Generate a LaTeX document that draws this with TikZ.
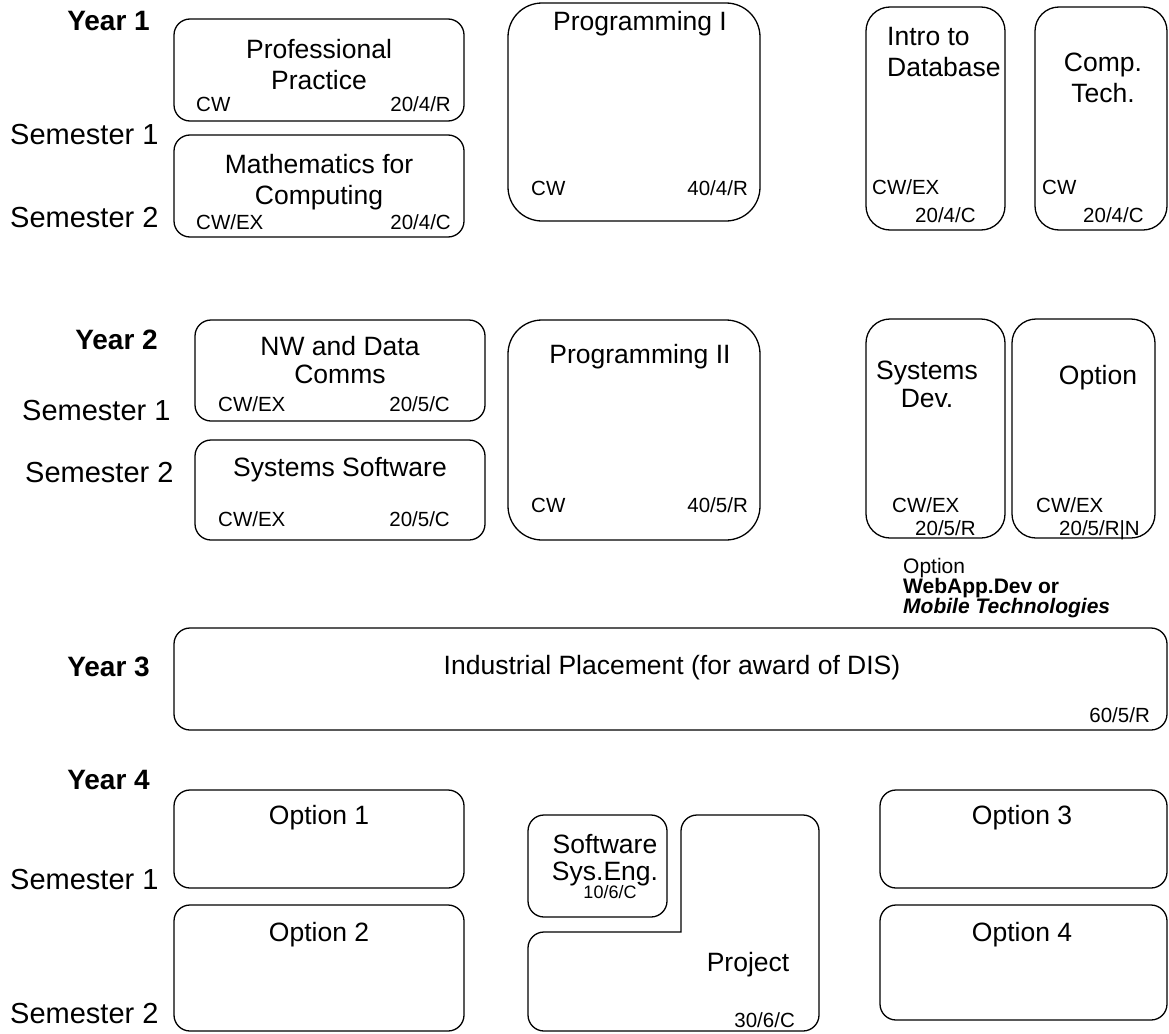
\documentclass[tikz,border=0pt]{standalone}
\usepackage{fontspec}
\setmainfont{Liberation Sans}
\usetikzlibrary{fit}
\begin{document}
\begin{tikzpicture}[x=1pt,y=-1pt,
  mbox/.style={draw, line width=1.3pt, rounded corners=16pt, inner sep=0pt},
  bigbox/.style={mbox, rounded corners=34pt},
  midbox/.style={mbox, rounded corners=24pt},
  ttl/.style={font=\fontsize{26.5}{31}\selectfont, inner sep=0pt, align=center},
  sm/.style={font=\fontsize{20.5}{22}\selectfont, inner sep=0pt},
  lab/.style={font=\fontsize{29}{30}\selectfont, inner sep=0pt, anchor=west},
  yr/.style={font=\bfseries\fontsize{28}{30}\selectfont, inner sep=0pt, anchor=east},
  note/.style={font=\fontsize{21}{22}\selectfont, inner sep=0pt, anchor=west},
]
\useasboundingbox (0,0) rectangle (1169,1033);

% ---------------- Year 1
\node[yr] (y1) at (150,21) {Year 1};
\node[lab] (y1s1) at (10,135) {Semester 1};
\node[lab] (y1s2) at (10,218) {Semester 2};

\node[mbox, fit={(174,19) (464,121)}] (pp) {};
\node[ttl] (ppt) at (319,65) {Professional\\Practice};
\node[sm, anchor=base west] (ppa) at (196,111) {CW};
\node[sm, anchor=base east] (ppc) at (451,111) {20/4/R};

\node[mbox, fit={(174,135) (464,237)}] (mc) {};
\node[ttl] (mct) at (319,182) {Mathematics for\\Computing};
\node[sm, anchor=base west] (mca) at (196,229) {CW/EX};
\node[sm, anchor=base east] (mcc) at (451,229) {20/4/C};

\node[bigbox, fit={(508,3) (760,221)}] (p1) {};
\node[ttl] (p1t) at (640,24) {Programming I};
\node[sm, anchor=base west] (p1a) at (531,195) {CW};
\node[sm, anchor=base east] (p1c) at (748,195) {40/4/R};

\node[midbox, fit={(866,7) (1005,230)}] (db) {};
\node[ttl, align=left, anchor=north west] (dbt) at (887,27) {Intro to\\Database};
\node[sm, anchor=base west] (dba) at (872,194) {CW/EX};
\node[sm, anchor=base west] (dbc) at (915,222) {20/4/C};

\node[midbox, fit={(1035,7) (1167,230)}] (ct) {};
\node[ttl] (ctt) at (1103,78) {Comp.\\Tech.};
\node[sm, anchor=base west] (cta) at (1042,194) {CW};
\node[sm, anchor=base west] (ctc) at (1083,222) {20/4/C};

% ---------------- Year 2
\node[yr] (y2) at (158,340) {Year 2};
\node[lab] (y2s1) at (22,411) {Semester 1};
\node[lab] (y2s2) at (25,473) {Semester 2};

\node[mbox, fit={(195,320) (485,421)}] (nw) {};
\node[ttl, font=\fontsize{26.5}{28}\selectfont] (nwt) at (340,360) {NW and Data\\Comms};
\node[sm, anchor=base west] (nwa) at (218,411) {CW/EX};
\node[sm, anchor=base east] (nwc) at (450,411) {20/5/C};

\node[mbox, fit={(195,440) (485,540)}] (ss) {};
\node[ttl] (sst) at (340,470) {Systems Software};
\node[sm, anchor=base west] (ssa) at (218,526) {CW/EX};
\node[sm, anchor=base east] (ssc) at (450,526) {20/5/C};

\node[bigbox, fit={(508,320) (760,540)}] (p2) {};
\node[ttl] (p2t) at (640,357) {Programming II};
\node[sm, anchor=base west] (p2a) at (531,512) {CW};
\node[sm, anchor=base east] (p2c) at (748,512) {40/5/R};

\node[midbox, fit={(866,319) (1005,538)}] (sd) {};
\node[ttl, font=\fontsize{26.5}{28}\selectfont] (sdt) at (927,384) {Systems\\Dev.};
\node[sm, anchor=base west] (sda) at (892,512) {CW/EX};
\node[sm, anchor=base west] (sdc) at (915,535) {20/5/R};

\node[midbox, fit={(1012,319) (1155,538)}] (op) {};
\node[ttl] (opt) at (1098,378) {Option};
\node[sm, anchor=base west] (opa) at (1036,512) {CW/EX};
\node[sm, anchor=base west] (opc) at (1059,535) {20/5/R|N};

\node[note] (n1) at (903,568) {Option};
\node[note, font=\bfseries\fontsize{21}{22}\selectfont] (n2) at (903,588) {WebApp.Dev or};
\node[note, font=\bfseries\itshape\fontsize{21}{22}\selectfont] (n3) at (903,608) {Mobile Technologies};

% ---------------- Year 3
\node[yr] (y3) at (150,667) {Year 3};
\node[mbox, fit={(174,628) (1167,730)}] (ip) {};
\node[ttl] (ipt) at (672,668) {Industrial Placement (for award of DIS)};
\node[sm, anchor=base east] (ipc) at (1150,722) {60/5/R};

% ---------------- Year 4
\node[yr] (y4) at (150,780) {Year 4};
\node[lab] (y4s1) at (10,880) {Semester 1};
\node[lab] (y4s2) at (10,1014) {Semester 2};

\node[mbox, fit={(174,790) (464,888)}] (o1) {};
\node[ttl] (o1t) at (319,818) {Option 1};
\node[mbox, fit={(174,905) (464,1031)}] (o2) {};
\node[ttl] (o2t) at (319,935) {Option 2};

\node[mbox, fit={(528,815) (667,917)}] (se) {};
\node[ttl, font=\fontsize{26.5}{27}\selectfont] (set) at (605,860) {Software\\Sys.Eng.};
\node[sm, font=\fontsize{18}{20}\selectfont] (sec) at (610,892) {10/6/C};

\draw[line width=1.3pt, rounded corners=16pt, line join=miter]
  (681,932) -- (681,815) -- (819,815) -- (819,1031) -- (528,1031) -- (528,932) -- (681.65,932);
\node[ttl] (pjt) at (748,965) {Project};
\node[sm, anchor=base east] (pjc) at (795,1027) {30/6/C};

\node[mbox, fit={(880,790) (1167,888)}] (o3) {};
\node[ttl] (o3t) at (1022,818) {Option 3};
\node[mbox, fit={(880,905) (1167,1020)}] (o4) {};
\node[ttl] (o4t) at (1022,935) {Option 4};
\end{tikzpicture}
\end{document}
